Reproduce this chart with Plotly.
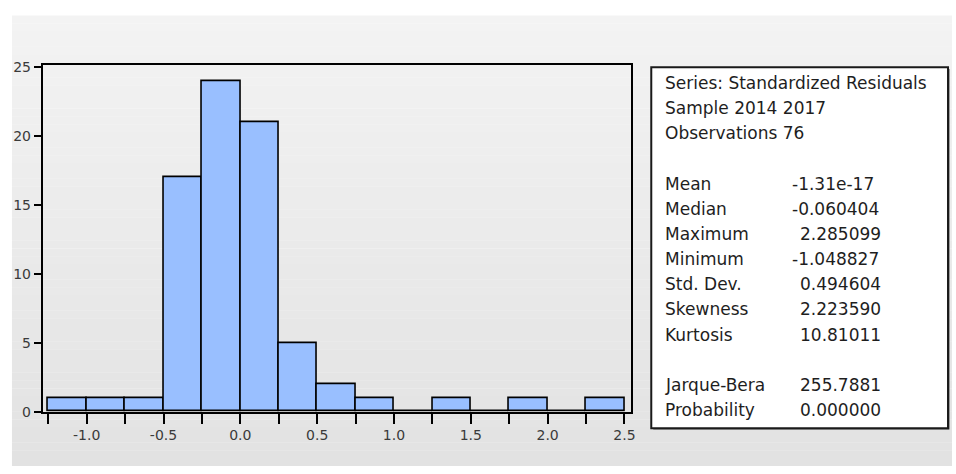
import plotly.graph_objects as go

# Histogram of standardized residuals (bin width 0.25)
bin_edges = [-1.25, -1.0, -0.75, -0.5, -0.25, 0.0, 0.25, 0.5, 0.75,
             1.0, 1.25, 1.5, 1.75, 2.0, 2.25, 2.5]
counts = [1, 1, 1, 17, 24, 21, 5, 2, 1, 0, 1, 0, 1, 0, 1]

x_tick_vals = [-1.25, -1.0, -0.75, -0.5, -0.25, 0.0, 0.25, 0.5, 0.75,
               1.0, 1.25, 1.5, 1.75, 2.0, 2.25, 2.5]
x_tick_text = ["", "-1.0", "", "-0.5", "", "0.0", "", "0.5", "",
               "1.0", "", "1.5", "", "2.0", "", "2.5"]
y_tick_vals = [0, 5, 10, 15, 20, 25]
y_tick_text = ["0", "5", "10", "15", "20", "25"]

# Descriptive statistics panel
header_lines = ["Series: Standardized Residuals", "Sample 2014 2017", "Observations 76"]
stat_names = ["Mean", "Median", "Maximum", "Minimum", "Std. Dev.", "Skewness", "Kurtosis"]
stat_values = ["-1.31e-17", "-0.060404", "2.285099", "-1.048827",
               "0.494604", "2.223590", "10.81011"]
test_names = ["Jarque-Bera", "Probability"]
test_values = ["255.7881", "0.000000"]

W, H = 956, 474


def px(x):
    return x / W


def py(y):
    return 1 - y / H


bar_x = [(bin_edges[i] + bin_edges[i + 1]) / 2 for i in range(len(counts))]
bar_w = [bin_edges[i + 1] - bin_edges[i] for i in range(len(counts))]

fig = go.Figure()
fig.add_trace(go.Bar(
    x=bar_x, y=counts, width=bar_w,
    marker=dict(color="#99bfff", line=dict(color="#000000", width=1.6)),
    hoverinfo="skip", showlegend=False,
))

shapes = []
# Soft vertical gradient behind everything
n_bands = 58
top, bottom = 10, H
for i in range(n_bands):
    y0 = top + (bottom - top) * i / n_bands
    y1 = top + (bottom - top) * (i + 1) / n_bands
    t = (i + 0.5) / n_bands
    g = round(243 - 17 * t)
    shapes.append(dict(type="rect", xref="paper", yref="paper", layer="below",
                       x0=px(12), x1=1.0, y0=py(y1), y1=py(y0) + 0.0005,
                       fillcolor=f"rgb({g},{g},{g})", line=dict(width=0)))

# Statistics box with a slight drop shadow on the right/bottom
shapes.append(dict(type="rect", xref="paper", yref="paper", layer="below",
                   x0=px(656), x1=px(953.5), y0=py(436.5), y1=py(65),
                   fillcolor="#555555", line=dict(width=0)))
shapes.append(dict(type="rect", xref="paper", yref="paper", layer="below",
                   x0=px(654), x1=px(952), y0=py(435), y1=py(63),
                   fillcolor="#ffffff", line=dict(color="#1a1a1a", width=2)))

annotations = []
font = dict(family="DejaVu Sans", size=17, color="#1e1e1e")
row_y0, row_step = 79.5, 25.9
label_x = 666
value_x = 801


def add_text(text, x, row):
    annotations.append(dict(text=text, xref="paper", yref="paper",
                            x=px(x), y=py(row_y0 + row_step * row),
                            xanchor="left", yanchor="middle",
                            showarrow=False, font=font))


for k, line in enumerate(header_lines):
    add_text(line, label_x, k)
for k, (name, val) in enumerate(zip(stat_names, stat_values)):
    add_text(name, label_x, 4 + k)
    add_text(val, value_x - (8 if val.startswith("-") else 0), 4 + k)
for k, (name, val) in enumerate(zip(test_names, test_values)):
    add_text(name, label_x, 12 + k)
    add_text(val, value_x - (8 if val.startswith("-") else 0), 12 + k)

tick_font = dict(family="DejaVu Sans", size=14, color="#3a3a3a")

fig.update_layout(
    width=W, height=H,
    margin=dict(l=0, r=0, t=0, b=0),
    paper_bgcolor="#ffffff",
    plot_bgcolor="#ffffff",
    bargap=0,
    shapes=shapes,
    annotations=annotations,
    xaxis=dict(
        domain=[px(43), px(634)],
        range=[-1.2855, 2.545],
        tickmode="array", tickvals=x_tick_vals, ticktext=x_tick_text,
        ticks="outside", ticklen=10, tickwidth=2, tickcolor="#000000",
        showline=True, linecolor="#000000", linewidth=2, mirror=True,
        showgrid=False, zeroline=False, tickfont=tick_font,
        fixedrange=True,
    ),
    yaxis=dict(
        domain=[py(418), py(61)],
        range=[0, 25.14],
        tickmode="array", tickvals=y_tick_vals, ticktext=y_tick_text,
        ticks="outside", ticklen=7, tickwidth=2, tickcolor="#000000",
        showline=True, linecolor="#000000", linewidth=2, mirror=True,
        showgrid=False, zeroline=False, tickfont=tick_font,
        fixedrange=True,
    ),
)

fig.write_html("out.html", config={"displayModeBar": False})
